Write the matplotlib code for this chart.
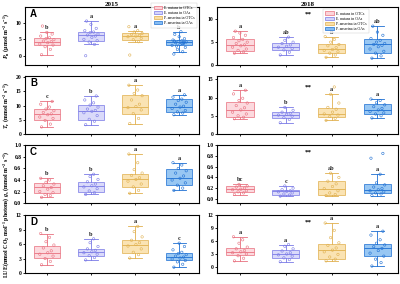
import matplotlib
matplotlib.use("Agg")
import matplotlib.pyplot as plt
from matplotlib.patches import Patch

plt.rcParams['font.family'] = ['Liberation Serif', 'DejaVu Serif']
plt.rcParams['font.weight'] = 'bold'
plt.rcParams['mathtext.fontset'] = 'custom'
plt.rcParams['mathtext.rm'] = 'Liberation Serif:bold'
plt.rcParams['mathtext.it'] = 'Liberation Serif:italic:bold'
plt.rcParams['mathtext.bf'] = 'Liberation Serif:bold'

groups = ["E. nutans in OTCs", "E. nutans in OAs", "P. anserina in OTCs", "P. anserina in OAs"]
years = ["2015", "2018"]

# box stats: [whislo, q1, median, q3, whishi]
pn15_box = [[0.4, 3.3, 4.3, 5.3, 7.1], [3.5, 4.5, 6.3, 7.3, 10.5], [4.3, 4.8, 6.0, 6.8, 7.6], [1.3, 3.3, 4.1, 4.8, 7.3]]
pn15_pts = [[0.4, 2.0, 2.8, 3.3, 3.6, 4.0, 4.3, 4.5, 4.9, 5.2, 5.5, 6.0, 6.6, 7.1, 9.0],
            [0.1, 3.5, 4.2, 4.6, 5.0, 5.6, 6.0, 6.3, 6.6, 7.0, 7.2, 7.6, 8.3, 9.5, 10.5],
            [0.3, 4.3, 4.9, 5.3, 5.8, 6.0, 6.2, 6.5, 6.8, 7.2, 7.6, 8.8],
            [0.6, 1.3, 2.0, 2.6, 3.2, 3.5, 3.8, 4.0, 4.2, 4.4, 4.6, 4.8, 5.2, 5.8, 6.5, 7.3, 3.0, 4.1, 4.5, 3.7]]
pn15_sig = ["b", "a", "a", "b"]

pn18_box = [[2.6, 3.1, 4.4, 5.6, 7.4], [2.2, 3.3, 4.0, 4.9, 6.1], [1.7, 2.7, 3.4, 4.5, 6.2], [1.5, 2.7, 4.5, 5.6, 8.5]]
pn18_pts = [[2.6, 2.9, 3.2, 3.5, 3.9, 4.2, 4.4, 4.7, 5.0, 5.3, 5.6, 6.0, 6.5, 7.0, 7.4],
            [2.2, 2.8, 3.3, 3.6, 3.9, 4.1, 4.4, 4.7, 5.0, 5.4, 6.1],
            [1.7, 2.2, 2.6, 2.9, 3.2, 3.4, 3.8, 4.2, 4.5, 5.0, 5.6, 6.2],
            [1.5, 2.0, 2.6, 3.0, 3.5, 4.0, 4.3, 4.5, 4.7, 5.0, 5.4, 5.8, 6.5, 7.2, 8.5]]
pn18_sig = ["a", "ab", "b", "ab"]

tr15_box = [[2.5, 5.1, 7.1, 8.9, 11.5], [3.3, 5.1, 8.0, 10.2, 13.4], [3.7, 7.1, 9.7, 13.8, 17.2], [6.8, 7.7, 9.7, 12.3, 13.8]]
tr15_pts = [[2.5, 3.5, 4.8, 5.5, 6.0, 6.8, 7.1, 7.6, 8.2, 8.8, 9.5, 10.5, 11.5],
            [3.3, 4.5, 5.2, 6.5, 7.5, 8.0, 8.3, 8.8, 9.5, 10.2, 11.0, 12.0, 13.4],
            [3.7, 5.5, 7.2, 8.5, 9.3, 9.7, 10.5, 12.0, 13.5, 14.3, 15.5, 17.2],
            [6.8, 7.4, 7.8, 8.3, 9.0, 9.5, 9.8, 10.5, 11.2, 11.8, 12.3, 13.0, 13.8]]
tr15_sig = ["c", "b", "a", "a"]

tr18_box = [[4.2, 4.8, 6.6, 8.8, 12.0], [3.1, 4.4, 5.3, 6.0, 7.3], [3.75, 4.6, 5.5, 7.1, 10.9], [4.4, 5.5, 6.6, 8.2, 9.6]]
tr18_pts = [[4.2, 4.6, 5.0, 5.5, 6.0, 6.6, 7.2, 7.8, 8.5, 9.2, 9.8, 11.0, 12.0],
            [3.1, 4.0, 4.5, 4.9, 5.2, 5.4, 5.7, 6.0, 6.5, 7.3],
            [3.75, 4.3, 4.8, 5.2, 5.5, 6.0, 6.8, 7.3, 8.5, 10.9, 12.9],
            [4.4, 5.0, 5.5, 5.8, 6.2, 6.6, 7.0, 7.5, 8.0, 8.6, 9.2, 9.6]]
tr18_sig = ["a", "b", "a", "a"]

gs15_box = [[0.10, 0.17, 0.27, 0.34, 0.43], [0.15, 0.20, 0.29, 0.37, 0.50], [0.17, 0.27, 0.41, 0.51, 0.85], [0.22, 0.31, 0.43, 0.59, 0.70]]
gs15_pts = [[0.10, 0.13, 0.15, 0.18, 0.20, 0.24, 0.27, 0.30, 0.33, 0.36, 0.40, 0.43],
            [0.15, 0.18, 0.21, 0.25, 0.28, 0.30, 0.33, 0.37, 0.41, 0.46, 0.50],
            [0.17, 0.22, 0.28, 0.33, 0.38, 0.41, 0.44, 0.48, 0.52, 0.58, 0.70, 0.85],
            [0.22, 0.26, 0.31, 0.35, 0.40, 0.43, 0.47, 0.52, 0.56, 0.60, 0.66, 0.70]]
gs15_sig = ["b", "b", "a", "a"]

gs18_box = [[0.08, 0.13, 0.18, 0.24, 0.27], [0.05, 0.08, 0.14, 0.17, 0.24], [0.06, 0.08, 0.19, 0.34, 0.48], [0.06, 0.10, 0.17, 0.27, 0.46]]
gs18_pts = [[0.08, 0.11, 0.13, 0.15, 0.17, 0.18, 0.20, 0.22, 0.24, 0.27],
            [0.05, 0.07, 0.09, 0.11, 0.13, 0.14, 0.15, 0.17, 0.20, 0.24],
            [0.06, 0.08, 0.11, 0.15, 0.19, 0.23, 0.28, 0.33, 0.40, 0.48],
            [0.06, 0.09, 0.11, 0.13, 0.15, 0.17, 0.19, 0.22, 0.26, 0.30, 0.46, 0.76, 0.85]]
gs18_sig = ["bc", "c", "ab", "a"]

lue15_box = [[1.7, 3.2, 4.2, 5.6, 8.2], [2.7, 3.6, 4.3, 5.0, 7.1], [3.1, 4.1, 5.8, 6.8, 9.7], [1.2, 2.6, 3.4, 4.2, 6.2]]
lue15_pts = [[1.7, 2.4, 3.0, 3.5, 3.9, 4.2, 4.6, 5.2, 5.8, 6.5, 7.4, 8.2],
             [2.7, 3.2, 3.6, 3.9, 4.2, 4.4, 4.7, 5.0, 5.5, 6.3, 7.1],
             [3.1, 3.8, 4.3, 5.0, 5.6, 5.9, 6.3, 6.8, 7.5, 8.6, 9.7],
             [1.2, 1.8, 2.3, 2.6, 2.9, 3.1, 3.3, 3.5, 3.8, 4.0, 4.3, 4.8, 5.5, 6.2]]
lue15_sig = ["b", "b", "a", "c"]

lue18_box = [[1.4, 2.7, 3.5, 4.4, 7.0], [1.2, 2.1, 2.9, 3.9, 5.2], [1.4, 1.9, 3.9, 5.4, 10.2], [0.2, 2.5, 4.3, 5.4, 8.3]]
lue18_pts = [[1.4, 2.0, 2.6, 3.0, 3.3, 3.5, 3.8, 4.2, 4.6, 5.5, 6.3, 7.0],
             [1.2, 1.7, 2.1, 2.5, 2.8, 3.0, 3.3, 3.7, 4.2, 4.8, 5.2],
             [1.4, 1.8, 2.3, 2.9, 3.5, 3.9, 4.4, 5.0, 5.6, 6.8, 8.5, 10.2],
             [0.2, 1.0, 1.8, 2.5, 3.2, 3.8, 4.3, 4.7, 5.1, 5.5, 6.3, 7.4, 8.3]]
lue18_sig = ["a", "a", "a", "a"]

ylabels = [r"$\mathit{P}_\mathrm{n}$ (μmol m$^{-2}$ s$^{-1}$)",
           r"$\mathit{T}_\mathrm{r}$ (mmol m$^{-2}$ s$^{-1}$)",
           r"$\mathit{g}_\mathrm{s}$ (mmol m$^{-2}$ s$^{-1}$)",
           r"LUE(mmol CO$_2$ mol$^{-1}$ photons)"]
panel_letters = ["A", "B", "C", "D"]

# ---- styling / layout ----
face = ["#fcd3d9", "#d4d4fa", "#fadfa6", "#86bdf2"]
edge = ["#e8707f", "#7a7ae6", "#e0b04e", "#1e6fd2"]
positions = [1, 2, 3, 4]
jit = [-0.12, 0.08, -0.04, 0.14, -0.16, 0.02, 0.10, -0.08, 0.16, -0.02, 0.06, -0.14, 0.12, 0.0, -0.10, 0.04, -0.06, 0.11, -0.11, 0.07]

rows = [
    (pn15_box, pn15_pts, pn15_sig, pn18_box, pn18_pts, pn18_sig),
    (tr15_box, tr15_pts, tr15_sig, tr18_box, tr18_pts, tr18_sig),
    (gs15_box, gs15_pts, gs15_sig, gs18_box, gs18_pts, gs18_sig),
    (lue15_box, lue15_pts, lue15_sig, lue18_box, lue18_pts, lue18_sig),
]
ylims = [((-2.7, 14.6), (0, 12.6)), ((0, 20.3), (0, 15.8)), ((0, 1.0), (-0.08, 1.0)), ((0, 12), (-1.4, 12))]
yticks = [([0, 5, 10], [0, 5, 10]), ([0, 5, 10, 15, 20], [0, 5, 10, 15]),
          ([0, .2, .4, .6, .8, 1.0], [0, .2, .4, .6, .8, 1.0]), ([0, 3, 6, 9, 12], [0, 3, 6, 9, 12])]
star_y = [11.2, 12.9, 0.87, 10.5]
label_y = [0.5, 0.5, 0.5, 0.62]
label_fs = [4.3, 4.3, 4.3, 4.2]

fig = plt.figure(figsize=(4, 2.84), dpi=100)
row_bottoms = [0.771, 0.528, 0.285, 0.039]
row_h = 0.203
col_lefts = [0.062, 0.5425]
col_w = [0.4355, 0.4525]

def draw(ax, box, pts, sig, ylim):
    stats = [dict(whislo=b[0], q1=b[1], med=b[2], q3=b[3], whishi=b[4], fliers=[]) for b in box]
    bp = ax.bxp(stats, positions=positions, widths=0.6, capwidths=0.3, patch_artist=True,
                showfliers=False, manage_ticks=False)
    for i in range(4):
        bp['boxes'][i].set(facecolor=face[i], edgecolor=edge[i], linewidth=0.6, alpha=0.85)
        bp['medians'][i].set(color=edge[i], linewidth=0.6)
        for k in (2 * i, 2 * i + 1):
            bp['whiskers'][k].set(color=edge[i], linewidth=0.6)
            bp['caps'][k].set(color=edge[i], linewidth=0.6)
        xs = [positions[i] + jit[j % len(jit)] for j in range(len(pts[i]))]
        ax.scatter(xs, pts[i], s=3, facecolors='none', edgecolors=edge[i], linewidths=0.4, zorder=4)
        rng = ylim[1] - ylim[0]
        ax.text(positions[i], box[i][4] + 0.035 * rng, sig[i], ha='center', va='bottom',
                fontsize=4.5, fontweight='bold', color='#222222')
    ax.set_xlim(0.5, 4.45)
    ax.set_ylim(*ylim)
    ax.set_xticks(positions)
    ax.set_xticklabels([])
    for s in ax.spines.values():
        s.set_linewidth(0.8)
    ax.tick_params(axis='both', direction='out', length=1.5, width=0.6, labelsize=4.1, pad=1)

legend_handles = [Patch(facecolor=face[i], edgecolor=edge[i], linewidth=0.5, label=groups[i]) for i in range(4)]

for r in range(4):
    for c in range(2):
        ax = fig.add_axes([col_lefts[c], row_bottoms[r], col_w[c], row_h])
        box, pts, sig = rows[r][3 * c:3 * c + 3]
        draw(ax, box, pts, sig, ylims[r][c])
        ax.set_yticks(yticks[r][c])
        if r == 2:
            ax.set_yticklabels([f"{v:.1f}" for v in yticks[r][c]])
        if c == 0:
            ax.set_ylabel(ylabels[r], fontsize=label_fs[r], fontweight='bold')
            ax.yaxis.set_label_coords(-0.078, label_y[r])
            ax.text(0.03, 0.88, panel_letters[r], transform=ax.transAxes, fontsize=7,
                    fontweight='bold', family='Liberation Sans', ha='left', va='center')
        else:
            ax.text(2.5, star_y[r], "**", ha='center', va='center', fontsize=5, fontweight='bold')
        if r == 0:
            ax.set_title(years[c], fontsize=5, fontweight='bold', pad=0.8)
            if c == 0:
                leg = ax.legend(handles=legend_handles, loc='upper right', bbox_to_anchor=(0.995, 1.09),
                                fontsize=2.8, frameon=True, handlelength=2.2, handleheight=1.0,
                                borderpad=0.4, labelspacing=0.25, handletextpad=0.5)
            else:
                leg = ax.legend(handles=legend_handles, loc='upper left', bbox_to_anchor=(0.58, 0.99),
                                fontsize=2.8, frameon=True, handlelength=2.2, handleheight=1.0,
                                borderpad=0.4, labelspacing=0.25, handletextpad=0.5)
            leg.get_frame().set_linewidth(0.3)
            leg.get_frame().set_edgecolor('#bbbbbb')
            leg.get_frame().set_boxstyle('square')
            for t in leg.get_texts():
                t.set_fontweight('normal')

fig.savefig("out.png", dpi=100)
